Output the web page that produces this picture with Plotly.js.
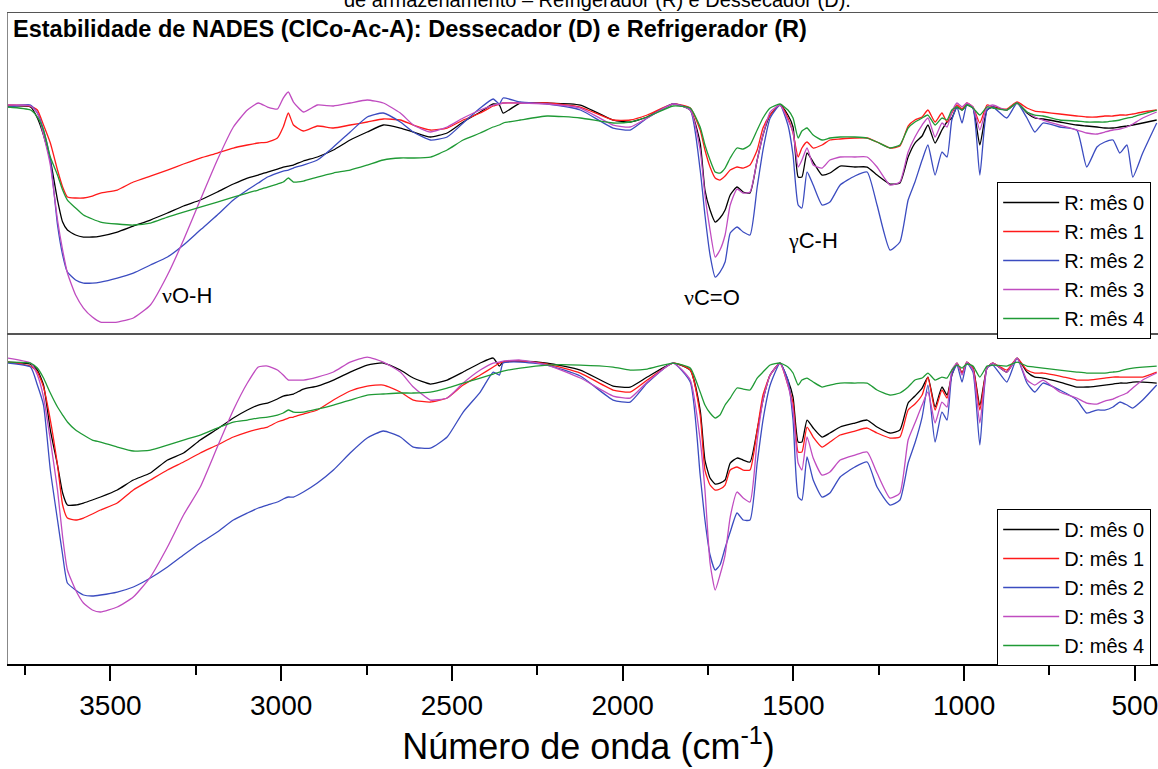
<!DOCTYPE html>
<html>
<head>
<meta charset="utf-8">
<script src="https://cdn.plot.ly/plotly-3.0.1.min.js"></script>
<style>
html,body{margin:0;padding:0;overflow:hidden;background:#fff;}
#chart{width:1175px;height:769px;}
</style>
</head>
<body>
<div id="chart"></div>
<script>
// Wavenumber grid (cm-1) shared by all spectra
const wavenumber = [3800,3734,3714,3696,3676,3655,3640,3626,3602,3579,
3553,3529,3480,3433,3383,3333,3286,3237,3187,3140,
3099,3067,3040,3011,2994,2979,2964,2935,2894,2847,
2798,2748,2701,2651,2613,2563,2514,2467,2417,2379,
2361,2350,2300,2221,2124,2028,1978,1928,1852,1802,
1773,1759,1744,1729,1715,1700,1685,1665,1647,1627,
1606,1589,1568,1539,1516,1501,1486,1475,1460,1442,
1416,1393,1363,1320,1284,1255,1217,1188,1164,1144,
1123,1106,1085,1065,1050,1036,1021,1006,992,974,
954,933,916,875,845,816,793,769,720,670,
641,611,588,564,544,523,506,477,436];

// Refrigerador (R) - transmittance (a.u.)
const R_mes0 = [227,226,215,198,173,133,111,103,98,96,
96,97,101,107,113,120,127,133,141,149,
155,158,161,164,166,167,168,172,176,183,
193,201,208,205,201,196,200,211,221,229,
228,220,230,230,228,213,211,216,229,223,
190,143,123,111,115,123,138,146,141,140,
173,198,218,228,218,206,156,156,180,171,
158,160,167,166,166,158,149,150,176,190,
197,208,190,203,211,215,226,223,228,225,
188,223,226,223,230,220,215,214,211,208,
207,206,205,205,206,207,208,210,213];
const R_mes1 = [228,227,223,208,190,163,146,136,135,135,
137,140,143,151,157,163,169,175,180,185,
188,190,191,195,206,220,208,202,207,205,
208,211,214,213,208,203,205,213,220,227,
229,230,230,230,226,213,213,218,229,225,
203,183,166,155,153,157,163,166,165,168,
183,205,218,228,215,200,176,185,191,185,
188,193,194,195,195,191,185,187,207,213,
216,223,211,220,211,220,228,224,230,226,
210,228,226,224,231,225,222,221,219,217,
216,216,217,217,218,218,219,221,223];
const R_mes2 = [226,228,220,203,173,108,78,61,53,50,
50,51,55,60,68,76,88,103,118,133,
143,150,156,160,162,163,165,168,173,186,
201,216,220,211,201,193,196,210,225,234,
229,235,231,229,223,205,203,215,229,223,
163,118,78,56,61,71,100,106,101,98,
146,183,215,228,208,178,128,125,161,148,
128,131,148,157,161,128,83,91,133,151,
173,188,158,181,176,213,226,210,228,225,
158,223,226,215,230,215,201,210,206,203,
166,186,191,193,180,188,156,180,210];
const R_mes3 = [228,227,220,198,168,113,83,60,38,25,
16,11,11,15,28,58,93,133,173,206,
223,230,226,224,235,241,231,221,228,227,
230,233,230,220,208,201,206,215,223,228,
229,230,230,229,225,208,206,215,229,223,
183,138,103,76,83,98,128,144,140,141,
173,198,221,228,213,201,166,173,185,168,
165,173,176,176,176,166,148,151,181,196,
208,215,196,210,206,221,230,226,230,226,
203,226,228,223,230,221,216,213,208,203,
200,199,201,203,204,206,209,215,221];
const R_mes4 = [226,223,216,203,176,158,143,133,125,118,
114,111,109,108,110,116,121,126,131,136,
140,143,146,149,151,155,151,152,156,160,
163,168,173,175,175,176,183,193,200,206,
208,210,213,217,215,210,211,216,227,225,
206,188,173,161,160,165,175,185,184,188,
203,215,225,229,223,215,195,202,205,198,
193,195,196,196,195,191,185,188,205,211,
215,218,208,215,213,223,226,223,228,225,
218,226,225,223,230,221,218,217,213,212,
211,211,211,212,213,215,216,219,223];

// Dessecador (D) - transmittance (a.u.)
const D_mes0 = [300,298,292,277,232,197,169,157,157,159,
162,165,172,182,189,202,209,222,233,244,
252,257,259,263,266,267,268,273,276,282,
290,297,299,292,284,278,282,290,299,304,
296,300,301,299,292,276,275,285,299,292,
252,202,184,178,179,182,199,204,202,200,
232,262,287,299,282,265,220,220,242,234,
225,229,235,239,242,235,229,232,259,266,
274,285,255,275,267,287,299,289,300,294,
257,294,299,290,304,290,285,284,280,275,
275,276,277,278,279,279,280,280,279];
const D_mes1 = [300,296,290,275,242,197,157,144,142,144,
148,152,159,172,182,192,200,209,217,225,
230,233,235,240,242,244,245,248,252,262,
271,276,277,270,262,260,264,277,287,295,
299,300,301,298,289,272,270,282,299,292,
247,192,177,172,173,177,192,195,192,192,
232,267,287,299,277,259,210,210,235,225,
215,220,227,231,234,229,224,225,252,258,
267,285,252,272,264,287,299,289,300,294,
252,294,299,292,304,292,289,289,286,282,
282,283,284,285,285,285,285,285,290];
const D_mes2 = [299,295,277,257,192,142,107,79,72,67,
66,67,70,75,84,95,107,119,130,142,
149,154,157,160,163,165,165,170,179,192,
209,224,231,225,215,214,225,250,270,290,
287,299,300,297,286,262,260,279,299,280,
187,142,107,92,97,114,130,149,142,142,
199,242,277,299,282,242,165,162,205,182,
165,169,185,195,200,175,157,162,199,219,
245,277,220,250,242,287,297,280,299,290,
217,294,297,280,304,279,270,279,272,262,
249,252,252,255,260,257,254,262,277];
const D_mes3 = [304,299,287,265,222,172,125,92,72,59,
52,50,55,65,85,115,147,175,215,252,
279,295,296,292,287,282,282,282,285,290,
300,305,300,290,275,262,264,279,292,299,
300,301,302,297,284,266,264,280,299,282,
222,172,99,72,87,107,145,170,164,160,
222,262,287,299,277,252,199,192,225,204,
187,190,202,207,210,189,164,169,222,239,
257,270,239,260,255,292,299,287,300,292,
239,294,299,290,304,282,277,282,270,264,
259,258,261,263,266,269,274,282,289];
const D_mes4 = [300,299,294,284,269,255,247,240,232,227,
222,220,215,211,212,217,222,227,234,240,
242,244,245,247,249,252,250,250,253,257,
262,267,268,269,269,270,274,279,284,288,
290,291,294,297,297,295,292,293,299,294,
270,257,249,244,247,257,264,274,273,272,
284,290,297,299,295,289,277,282,284,280,
275,277,279,279,279,272,267,269,275,282,
284,289,282,285,284,292,297,294,298,296,
285,296,297,296,300,296,295,294,292,290,
289,289,289,290,291,293,294,295,296];

const R_names = ["R: mês 0","R: mês 1","R: mês 2","R: mês 3","R: mês 4"];
const D_names = ["D: mês 0","D: mês 1","D: mês 2","D: mês 3","D: mês 4"];
const colors = ["#000000","#ff1a1a","#3b4cc0","#c04cc0","#1f9a35"];

const R_series = [R_mes0,R_mes1,R_mes2,R_mes3,R_mes4];
const D_series = [D_mes0,D_mes1,D_mes2,D_mes3,D_mes4];

const traces = [];
R_series.forEach((ys,i)=>{
  traces.push({x:wavenumber,y:ys,type:'scatter',mode:'lines',name:R_names[i],
    xaxis:'x2',yaxis:'y2',legend:'legend',
    line:{color:colors[i],width:1.3,shape:'spline',smoothing:0.5}});
});
D_series.forEach((ys,i)=>{
  traces.push({x:wavenumber,y:ys,type:'scatter',mode:'lines',name:D_names[i],
    xaxis:'x',yaxis:'y',legend:'legend2',
    line:{color:colors[i],width:1.3,shape:'spline',smoothing:0.5}});
});

const split = 0.5084;
const fontFam = "Arial, 'Liberation Sans', sans-serif";
const legendStyle = {bgcolor:'#ffffff',bordercolor:'#000000',borderwidth:1,itemwidth:56,
  font:{size:20,color:'#000',family:fontFam},xanchor:'left',yanchor:'top',traceorder:'normal'};

const layout = {
  width:1175,height:769,
  margin:{l:8,r:6,t:13,b:105},
  paper_bgcolor:'#fff',plot_bgcolor:'#fff',
  font:{family:fontFam,color:'#000'},
  showlegend:true,
  legend:Object.assign({x:0.852,y:0.7404},legendStyle),
  legend2:Object.assign({x:0.852,y:0.2381},legendStyle),
  xaxis:{domain:[0,1],anchor:'y',range:[3800,400],showgrid:false,zeroline:false,
    showline:true,linecolor:'#000',linewidth:2,mirror:false,
    ticks:'outside',ticklen:15,tickwidth:2,tickcolor:'#000',tick0:0,dtick:500,
    minor:{dtick:250,ticks:'outside',ticklen:9,tickwidth:2,tickcolor:'#000'},
    tickfont:{size:28,family:fontFam},
    title:{text:'Número de onda (cm<sup>-1</sup>)',font:{size:36,family:fontFam},standoff:8}},
  yaxis:{domain:[0,split],range:[-2,329],showgrid:false,zeroline:false,
    showline:true,linecolor:'#888',linewidth:1.5,showticklabels:false,ticks:''},
  xaxis2:{domain:[0,1],anchor:'y2',matches:'x',showgrid:false,zeroline:false,
    showline:true,linecolor:'#555',linewidth:1.5,mirror:true,showticklabels:false,ticks:''},
  yaxis2:{domain:[split,1],range:[0,320],showgrid:false,zeroline:false,
    showline:true,linecolor:'#888',linewidth:1.5,showticklabels:false,ticks:''},
  annotations:[
    {text:'de armazenamento – Refrigerador (R) e Dessecador (D).',xref:'paper',yref:'paper',
     x:0.508,y:1.0200,xanchor:'center',yanchor:'middle',showarrow:false,font:{size:20,family:fontFam}},
    {text:'<b>Estabilidade de NADES (ClCo-Ac-A): Dessecador (D) e Refrigerador (R)</b>',
     xref:'paper',yref:'paper',x:0,y:0.9754,xshift:3,xanchor:'left',yanchor:'middle',
     showarrow:false,font:{size:23.5,family:fontFam}},
    {text:'<span style="font-family:Liberation Serif">ν</span>O-H',xref:'x2',yref:'y2',x:3275,y:38,showarrow:false,font:{size:22,family:fontFam}},
    {text:'<span style="font-family:Liberation Serif">ν</span>C=O',xref:'x2',yref:'y2',x:1738,y:36,showarrow:false,font:{size:22,family:fontFam}},
    {text:'<span style="font-family:Liberation Serif">γ</span>C-H',xref:'x2',yref:'y2',x:1442,y:93,showarrow:false,font:{size:22,family:fontFam}}
  ]
};

Plotly.newPlot('chart',traces,layout,{staticPlot:true,displayModeBar:false});
</script>
</body>
</html>
